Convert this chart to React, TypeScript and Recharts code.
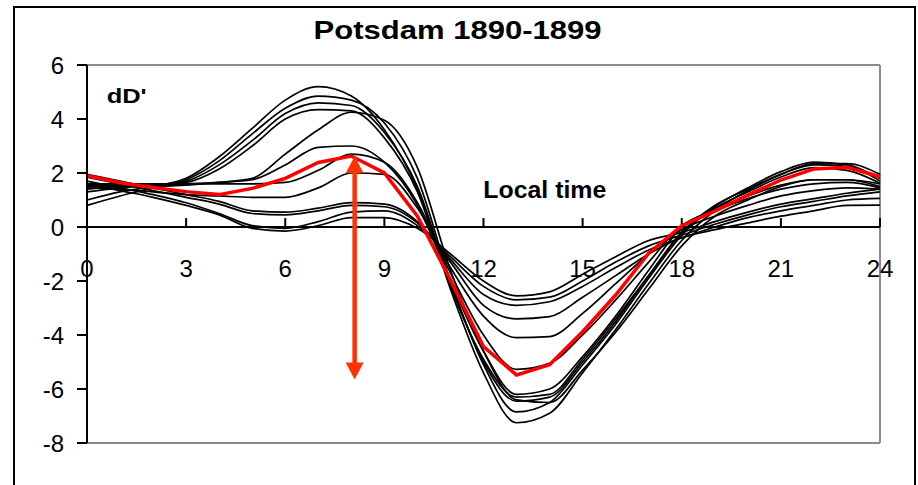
import { LineChart, Line, XAxis, YAxis, ReferenceLine } from 'recharts';

const font = '"Liberation Sans", Arial, sans-serif';

const hours = [0, 1, 2, 3, 4, 5, 6, 7, 8, 9, 10, 11, 12, 13, 14, 15, 16, 17, 18, 19, 20, 21, 22, 23, 24];
const xTicks = [0, 3, 6, 9, 12, 15, 18, 21, 24];
const yTicks = [-8, -6, -4, -2, 0, 2, 4, 6];

// single curves (black)
const curveA1 = [1.0, 1.3, 1.5, 1.8, 2.6, 3.65, 4.7, 5.2, 4.85, 3.6, 1.4, -2.3, -5.4, -7.25, -6.9, -5.4, -3.8, -2.1, -0.5, 0.6, 1.35, 1.95, 2.35, 2.35, 1.95];
const curveA2 = [0.8, 1.15, 1.45, 1.75, 2.45, 3.45, 4.4, 4.85, 4.7, 3.85, 1.8, -2.0, -5.1, -6.85, -6.5, -5.1, -3.6, -1.9, -0.3, 0.75, 1.45, 2.05, 2.4, 2.3, 1.8];
const curveA3 = [1.3, 1.45, 1.55, 1.7, 2.3, 3.2, 4.2, 4.6, 4.5, 3.5, 1.5, -2.1, -5.0, -6.45, -6.3, -5.0, -3.5, -1.8, -0.2, 0.8, 1.4, 1.95, 2.3, 2.25, 1.7];
const curveA4 = [1.4, 1.5, 1.55, 1.65, 2.15, 3.0, 4.0, 4.35, 4.3, 3.3, 1.3, -2.2, -4.9, -6.3, -6.2, -4.9, -3.4, -1.8, -0.2, 0.7, 1.3, 1.85, 2.2, 2.1, 1.62];
const curveA5 = [1.5, 1.5, 1.5, 1.55, 1.65, 1.8, 2.7, 3.6, 4.25, 3.95, 2.2, -1.6, -4.6, -6.4, -6.5, -5.3, -3.9, -2.3, -0.7, 0.4, 1.0, 1.5, 1.75, 1.75, 1.6];
const curveB1 = [1.55, 1.55, 1.55, 1.6, 1.65, 1.75, 2.3, 2.95, 3.0, 2.4, 0.8, -2.0, -4.6, -6.2, -6.0, -4.8, -3.3, -1.6, 0.0, 0.65, 1.15, 1.55, 1.75, 1.75, 1.5];
const curveB2 = [1.6, 1.6, 1.6, 1.6, 1.6, 1.6, 1.65, 2.1, 2.7, 2.4, 0.9, -1.7, -4.0, -5.27, -5.05, -4.0, -2.7, -1.3, 0.05, 0.6, 1.05, 1.4, 1.6, 1.65, 1.45];
const curveB3 = [1.45, 1.4, 1.3, 1.2, 1.15, 1.1, 1.1, 1.45, 2.0, 1.95, 0.7, -1.5, -3.3, -4.1, -4.06, -3.2, -2.1, -1.0, -0.1, 0.4, 0.8, 1.15, 1.35, 1.45, 1.4];
const curveC1 = [1.95, 1.7, 1.45, 1.2, 0.95, 0.6, 0.55, 0.7, 0.9, 0.85, 0.2, -1.3, -2.9, -3.4, -3.32, -2.6, -1.8, -1.0, -0.4, -0.1, 0.15, 0.4, 0.6, 0.8, 0.81];
const curveC2 = [1.85, 1.6, 1.35, 1.1, 0.85, 0.5, 0.45, 0.6, 0.8, 0.75, 0.15, -1.2, -2.5, -2.9, -2.77, -2.2, -1.5, -0.85, -0.4, 0.0, 0.35, 0.6, 0.8, 1.0, 1.06];
const curveC3 = [1.7, 1.45, 1.2, 0.9, 0.5, 0.05, -0.05, 0.2, 0.55, 0.6, 0.05, -1.1, -2.2, -2.7, -2.6, -2.0, -1.3, -0.7, -0.3, 0.1, 0.45, 0.75, 0.95, 1.15, 1.3];
const curveC4 = [1.6, 1.35, 1.1, 0.8, 0.45, -0.05, -0.15, 0.05, 0.35, 0.35, -0.05, -1.0, -2.0, -2.55, -2.4, -1.75, -1.1, -0.5, -0.2, 0.2, 0.55, 0.85, 1.05, 1.25, 1.4];

// mean curve (red)
const meanCurve = [1.9, 1.64, 1.46, 1.31, 1.2, 1.43, 1.8, 2.39, 2.63, 2.0, 0.4, -1.96, -4.43, -5.48, -5.1, -3.88, -2.52, -0.97, 0.05, 0.59, 1.18, 1.74, 2.15, 2.21, 1.86];

// range arrow
const arrowHour = 8.1;
const arrowTop = 2.62;
const arrowBottom = -5.65;

const curves = [curveA1, curveA2, curveA3, curveA4, curveA5, curveB1, curveB2, curveB3, curveC1, curveC2, curveC3, curveC4];

const data = hours.map((h, i) => {
  const row: Record<string, number> = { h, mean: meanCurve[i] };
  curves.forEach((c, k) => {
    row[`c${k}`] = c[i];
  });
  return row;
});

function Arrow(p: any) {
  const { x1, y1, y2 } = p;
  const head = 17;
  const half = 9;
  const top = Math.min(y1, y2);
  const bot = Math.max(y1, y2);
  return (
    <g fill="#ff3300">
      <line x1={x1} x2={x1} y1={top + head - 1} y2={bot - head + 1} stroke="#ff3300" strokeWidth={4.5} />
      <polygon points={`${x1},${top} ${x1 - half},${top + head} ${x1 + half},${top + head}`} />
      <polygon points={`${x1},${bot} ${x1 - half},${bot - head} ${x1 + half},${bot - head}`} />
    </g>
  );
}

export default function App() {
  return (
    <div style={{ position: 'fixed', left: 0, top: 0, width: 918, height: 485, overflow: 'hidden', background: '#fff' }}>
      <div
        style={{
          position: 'absolute',
          left: 13,
          top: 6,
          width: 903,
          height: 600,
          boxSizing: 'border-box',
          border: '2px solid #000',
        }}
      />
      <LineChart
        width={918}
        height={485}
        data={data}
        margin={{ top: 65, right: 38, bottom: 42, left: 0 }}
        style={{ position: 'absolute', left: 0, top: 0 }}
      >
        <XAxis type="number" dataKey="h" domain={[0, 24]} ticks={xTicks} hide />
        <YAxis
          type="number"
          domain={[-8, 6]}
          ticks={yTicks}
          interval={0}
          width={87}
          tickSize={10}
          tickMargin={13}
          axisLine={{ stroke: '#000', strokeWidth: 2 }}
          tickLine={{ stroke: '#000', strokeWidth: 2 }}
          tick={{ fill: '#000', fontSize: 24, fontFamily: font }}
        />
        <ReferenceLine y={6} stroke="#8c8c8c" strokeWidth={2} ifOverflow="visible" />
        <ReferenceLine y={-8} stroke="#8c8c8c" strokeWidth={2} ifOverflow="visible" />
        <ReferenceLine x={24} stroke="#8c8c8c" strokeWidth={2} ifOverflow="visible" />
        <ReferenceLine y={0} stroke="#000" strokeWidth={2} />
        {xTicks.map((t) => (
          <ReferenceLine
            key={t}
            segment={[{ x: t, y: 0 }, { x: t, y: 0.33 }]}
            stroke="#000"
            strokeWidth={2}
            ifOverflow="visible"
            label={{ value: String(t), position: 'bottom', offset: 33, fill: '#000', fontSize: 24, fontFamily: font }}
          />
        ))}
        {curves.map((_, k) => (
          <Line key={k} type="monotone" dataKey={`c${k}`} stroke="#000" strokeWidth={1.7} dot={false} activeDot={false} isAnimationActive={false} />
        ))}
        <Line type="linear" dataKey="mean" stroke="#ff0000" strokeWidth={3.5} dot={false} activeDot={false} isAnimationActive={false} />
        <ReferenceLine segment={[{ x: arrowHour, y: arrowTop }, { x: arrowHour, y: arrowBottom }]} shape={Arrow} />
        <text x={457.5} y={39} textAnchor="middle" fontSize={26} fontWeight="bold" fontFamily={font} textLength={288} lengthAdjust="spacingAndGlyphs">
          Potsdam 1890-1899
        </text>
        <text x={106.7} y={102.7} fontSize={20} fontWeight="bold" fontFamily={font} textLength={40} lengthAdjust="spacingAndGlyphs">
          dD'
        </text>
        <text x={483.3} y={198.3} fontSize={23} fontWeight="bold" fontFamily={font} textLength={123} lengthAdjust="spacingAndGlyphs">
          Local time
        </text>
      </LineChart>
    </div>
  );
}
